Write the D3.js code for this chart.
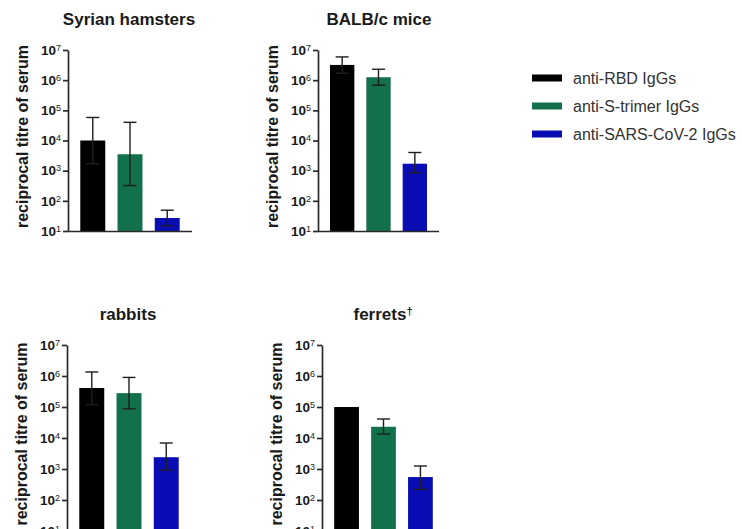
<!DOCTYPE html>
<html>
<head>
<meta charset="utf-8">
<script src="https://cdn.jsdelivr.net/npm/d3@7/dist/d3.min.js"></script>
<style>
  body { margin: 0; background: #fff; }
  svg { display: block; font-family: Arial, "Liberation Sans", sans-serif; }
</style>
</head>
<body>
<svg id="chart" width="742" height="529"></svg>
<script>
// species panels and antibody series
const species = ["Syrian hamsters", "BALB/c mice", "rabbits", "ferrets"];
const seriesNames = ["anti-RBD IgGs", "anti-S-trimer IgGs", "anti-SARS-CoV-2 IgGs"];
const tickValues = [1e1, 1e2, 1e3, 1e4, 1e5, 1e6, 1e7];

// mean titres, one entry per species
const rbdMean = [1.0e4, 3.2e6, 4.1e5, 1.0e5];
const strimerMean = [3.5e3, 1.25e6, 2.8e5, 2.3e4];
const sarsMean = [27, 1.7e3, 2.4e3, 550];

// error bar upper / lower ends (null = not shown)
const rbdHigh = [5.8e4, 5.9e6, 1.35e6, null];
const rbdLow = [1.7e3, 1.7e6, 1.2e5, null];
const strimerHigh = [4.0e4, 2.3e6, 9.0e5, 4.1e4];
const strimerLow = [3.2e2, 6.8e5, 8.7e4, 1.35e4];
const sarsHigh = [49, 4.0e3, 6.9e3, 1.25e3];
const sarsLow = [15, 850, 930, 220];

const colors = ["#000000", "#12704a", "#0b0db4"];

const svg = d3.select("#chart");

// panel placement (left axis x, axis length, top/bottom of y axis)
const panels = [
    { x: 68, w: 124, top: 50, bottom: 231 },
    { x: 318, w: 121, top: 50, bottom: 231 },
    { x: 67, w: 124, top: 345, bottom: 531 },
    { x: 322, w: 123, top: 345, bottom: 531 }
];

const means = [rbdMean, strimerMean, sarsMean];
const highs = [rbdHigh, strimerHigh, sarsHigh];
const lows = [rbdLow, strimerLow, sarsLow];

species.forEach((name, p) => {
    const pl = panels[p];
    const g = svg.append("g");

    const x = d3.scaleBand()
        .domain(seriesNames)
        .range([pl.x, pl.x + pl.w])
        .paddingInner(0.33)
        .paddingOuter(0.33);

    const y = d3.scaleLog()
        .domain([10, 1e7])
        .range([pl.bottom, pl.top]);

    const rows = seriesNames.map((s, i) => ({
        series: s,
        i: i,
        mean: means[i][p],
        high: highs[i][p],
        low: lows[i][p]
    }));

    // Bars
    g.selectAll(".bar")
        .data(rows)
        .enter()
        .append("rect")
        .attr("x", d => x(d.series))
        .attr("y", d => y(d.mean))
        .attr("width", x.bandwidth())
        .attr("height", d => y(10) - y(d.mean))
        .attr("fill", d => colors[d.i]);

    // Error bars
    const cap = 13;
    const err = g.selectAll(".err")
        .data(rows.filter(d => d.high !== null))
        .enter()
        .append("g")
        .attr("stroke", "#1e1e1e")
        .attr("stroke-width", 1.4);

    err.append("line")
        .attr("x1", d => x(d.series) + x.bandwidth() / 2)
        .attr("x2", d => x(d.series) + x.bandwidth() / 2)
        .attr("y1", d => y(Math.max(d.low, 10)))
        .attr("y2", d => y(d.high));

    err.append("line")
        .attr("x1", d => x(d.series) + x.bandwidth() / 2 - cap / 2)
        .attr("x2", d => x(d.series) + x.bandwidth() / 2 + cap / 2)
        .attr("y1", d => y(d.high))
        .attr("y2", d => y(d.high));

    err.filter(d => d.low > 10).append("line")
        .attr("x1", d => x(d.series) + x.bandwidth() / 2 - cap / 2)
        .attr("x2", d => x(d.series) + x.bandwidth() / 2 + cap / 2)
        .attr("y1", d => y(d.low))
        .attr("y2", d => y(d.low));

    // Y axis
    const yAxis = g.append("g")
        .attr("transform", `translate(${pl.x},0)`)
        .call(d3.axisLeft(y).tickValues(tickValues).tickSize(5).tickSizeOuter(0).tickPadding(2));

    yAxis.select(".domain").attr("stroke", "#2a2a2a").attr("stroke-width", 1.7);
    yAxis.selectAll(".tick line").attr("stroke", "#2a2a2a").attr("stroke-width", 1.7);
    yAxis.selectAll(".tick text")
        .attr("fill", "#1a1a1a")
        .style("font-weight", "bold")
        .style("font-size", "13.5px")
        .each(function(d) {
            const t = d3.select(this);
            t.text(null);
            t.append("tspan").text("10");
            t.append("tspan")
                .attr("dy", "-0.45em")
                .style("font-size", "9px")
                .style("font-weight", "normal")
                .text(Math.round(Math.log10(d)));
        });

    // X axis
    const xAxis = g.append("g")
        .attr("transform", `translate(0,${pl.bottom})`)
        .call(d3.axisBottom(x).tickSize(0).tickSizeOuter(0).tickFormat(""));
    xAxis.select(".domain").attr("stroke", "#2a2a2a").attr("stroke-width", 1.7)
        .attr("d", `M${pl.x},0.5H${pl.x + pl.w}`);

    // Y label
    g.append("text")
        .attr("transform", `translate(${pl.x - 40},${(pl.top + pl.bottom) / 2 - 4}) rotate(-90)`)
        .attr("text-anchor", "middle")
        .attr("fill", "#1a1a1a")
        .style("font-weight", "bold")
        .style("font-size", "16px")
        .text("reciprocal titre of serum");

    // Title
    const title = g.append("text")
        .attr("x", pl.x + 61)
        .attr("y", pl.top - 25)
        .attr("text-anchor", "middle")
        .attr("fill", "#1a1a1a")
        .style("font-weight", "bold")
        .style("font-size", "17px");
    title.append("tspan").text(name);
    if (name === "ferrets") {
        title.append("tspan")
            .attr("dy", "-0.45em")
            .style("font-size", "11px")
            .text("\u2020");
    }
});

// Legend
const legend = svg.append("g").attr("transform", "translate(532,78)");
const items = legend.selectAll(".item")
    .data(seriesNames)
    .enter()
    .append("g")
    .attr("transform", (d, i) => `translate(0,${i * 28})`);

items.append("rect")
    .attr("x", 0)
    .attr("y", -3.5)
    .attr("width", 30)
    .attr("height", 7)
    .attr("fill", (d, i) => colors[i]);

items.append("text")
    .attr("x", 41)
    .attr("dy", "0.36em")
    .attr("fill", "#333")
    .style("font-size", "16px")
    .text(d => d);
</script>
</body>
</html>
